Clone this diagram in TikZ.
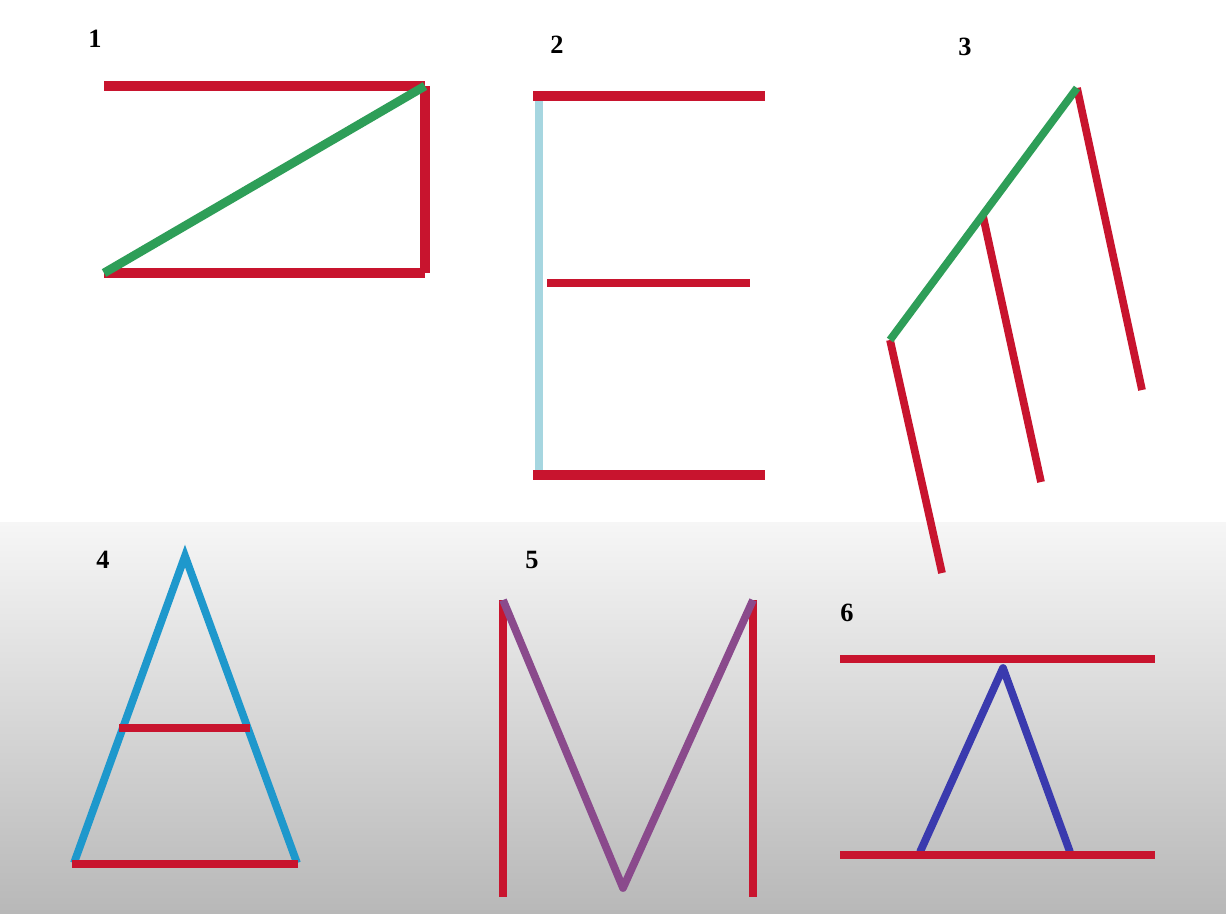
\documentclass[tikz,border=0pt]{standalone}
\usepackage{fontspec}
\setmainfont{Liberation Serif}
\usepackage{xcolor}
\definecolor{StickRed}{HTML}{C8142E}
\definecolor{StickGreen}{HTML}{2E9E58}
\definecolor{PaleBlue}{HTML}{A6D6E0}
\definecolor{SkyBlue}{HTML}{1E98CC}
\definecolor{Plum}{HTML}{8A4A8C}
\definecolor{DeepBlue}{HTML}{3A3AAE}
\definecolor{FadeTop}{HTML}{F6F6F6}
\definecolor{FadeBottom}{HTML}{B8B8B8}
\usepackage{tikz}
\usetikzlibrary{positioning}
\tikzstyle{redstick} = [draw=StickRed, line width=5.4pt]
\tikzstyle{thinred} = [draw=StickRed, line width=4.4pt]
\tikzstyle{greenstick} = [draw=StickGreen, line width=5pt]
\tikzstyle{bluestick} = [line width=4.4pt, line join=round]
\tikzstyle{numlabel} = [font=\fontsize{15}{17}\selectfont\bfseries, text=black, inner sep=0pt]

\begin{document}
\begin{tikzpicture}[x=0.02cm, y=-0.02cm]
        \useasboundingbox (0,0) rectangle (1226,913);
        % Background
        \fill [white] (0,0) rectangle (1226,522);
        \shade [top color=FadeTop, bottom color=FadeBottom] (0,522) rectangle (1226,913);

        % Puzzle 1
        \coordinate (zTL) at (104,86);
        \coordinate (zTR) at (425,86);
        \coordinate (zBR) at (425,273);
        \coordinate (zBL) at (104,273);
        \draw [redstick] (zTL) -- (zTR);
        \draw [redstick] (zTR) -- (zBR);
        \draw [redstick] (zBL) -- (zBR);
        \draw [greenstick] (zBL) -- (zTR);
        \node [numlabel] (num1) at (95,39) {1};

        % Puzzle 2
        \coordinate (eTL) at (533,96);
        \coordinate (eTR) at (765,96);
        \coordinate (eML) at (547,283);
        \coordinate (eMR) at (750,283);
        \coordinate (eBL) at (533,475);
        \coordinate (eBR) at (765,475);
        \draw [bluestick, draw=PaleBlue, line width=5pt] (539,100) coordinate (eUp) -- (539,470) coordinate (eDn);
        \draw [redstick] (eTL) -- (eTR);
        \draw [thinred] (eML) -- (eMR);
        \draw [redstick] (eBL) -- (eBR);
        \node [numlabel] (num2) at (557,45) {2};

        % Puzzle 3
        \coordinate (fLow) at (890,340);
        \coordinate (fMid) at (983,216);
        \coordinate (fTop) at (1077,88);
        \coordinate (fEndA) at (1142,390);
        \coordinate (fEndB) at (1041,482);
        \coordinate (fEndC) at (942,573);
        \draw [thinred] (fTop) -- (fEndA);
        \draw [thinred] (fMid) -- (fEndB);
        \draw [thinred] (fLow) -- (fEndC);
        \draw [greenstick, line width=4.4pt] (fLow) -- (fTop);
        \node [numlabel] (num3) at (965,47) {3};

        % Puzzle 4
        \coordinate (aApex) at (185,556);
        \coordinate (aLeft) at (74,863);
        \coordinate (aRight) at (297,863);
        \draw [bluestick, draw=SkyBlue, line join=miter] (aLeft) -- (aApex) -- (aRight);
        \draw [thinred] (119,728) coordinate (aBarL) -- (250,728) coordinate (aBarR);
        \draw [redstick, line width=4.8pt] (72,864) coordinate (aBaseL) -- (298,864) coordinate (aBaseR);
        \node [numlabel] (num4) at (103,560) {4};

        % Puzzle 5
        \coordinate (mTL) at (503,600);
        \coordinate (mBL) at (503,897);
        \coordinate (mTR) at (753,600);
        \coordinate (mBR) at (753,897);
        \coordinate (mDip) at (623,888);
        \draw [thinred] (mTL) -- (mBL);
        \draw [thinred] (mTR) -- (mBR);
        \draw [bluestick, draw=Plum] (mTL) -- (mDip) -- (mTR);
        \node [numlabel] (num5) at (532,560) {5};

        % Puzzle 6
        \coordinate (sApex) at (1003,668);
        \coordinate (sLeft) at (920,852);
        \coordinate (sRight) at (1070,852);
        \draw [bluestick, draw=DeepBlue] (sLeft) -- (sApex) -- (sRight);
        \draw [redstick, line width=5pt] (840,659) coordinate (sTopL) -- (1155,659) coordinate (sTopR);
        \draw [redstick, line width=5pt] (840,855) coordinate (sBotL) -- (1155,855) coordinate (sBotR);
        \node [numlabel] (num6) at (847,613) {6};
    \end{tikzpicture}
\end{document}
